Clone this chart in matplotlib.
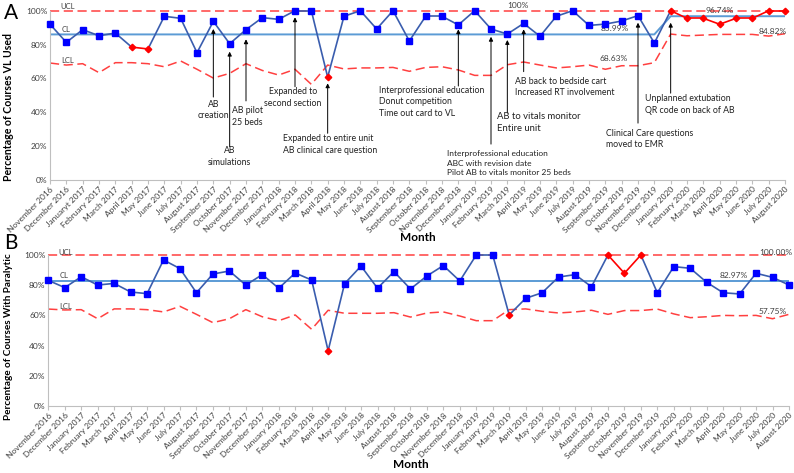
import numpy as np
import matplotlib
matplotlib.use('Agg')
from matplotlib import pyplot as plt

plt.rcParams['font.family'] = ['Lato', 'DejaVu Sans']

# 月份（A 图中 "Januaryt 2017" 为原图拼写）
months_b = ['November 2016', 'December 2016', 'January 2017', 'February 2017', 'March 2017',
            'April 2017', 'May 2017', 'June 2017', 'July 2017', 'August 2017', 'September 2017',
            'October 2017', 'November 2017', 'December 2017', 'January 2018', 'February 2018',
            'March 2018', 'April 2018', 'May 2018', 'June 2018', 'July 2018', 'August 2018',
            'September 2018', 'October 2018', 'November 2018', 'December 2018', 'January 2019',
            'February 2019', 'March 2019', 'April 2019', 'May 2019', 'June 2019', 'July 2019',
            'August 2019', 'September 2019', 'October 2019', 'November 2019', 'December 2019',
            'January 2020', 'February 2020', 'March 2020', 'April 2020', 'May 2020', 'June 2020',
            'July 2020', 'August 2020']
months_a = list(months_b)
months_a[2] = 'Januaryt 2017'

# A: VL 使用率
vl_used = [92.0, 81.3, 88.8, 85.2, 86.8, 78.5, 77.4, 96.7, 95.5, 75.2, 93.7, 80.5, 88.8, 95.9,
           94.9, 100, 100, 60.8, 96.7, 100, 89.2, 100, 82.1, 96.7, 96.7, 91.6, 100, 89.2, 86.2,
           92.5, 84.9, 96.7, 100, 91.3, 92.1, 93.9, 97.1, 80.9, 100, 95.5, 95.5, 92.0, 95.5,
           95.5, 100, 100]
vl_cl = [85.99] * 38 + [96.74] * 8
vl_ucl = [100] * 46
vl_lcl = [69.1, 67.9, 68.7, 63.4, 69.3, 69.3, 68.7, 66.9, 70.3, 65.4, 60.2, 63.0, 68.7, 64.7,
          62.0, 65.4, 56.5, 67.9, 65.6, 66.2, 66.2, 66.5, 64.2, 66.5, 66.9, 65.0, 61.8, 61.8,
          68.1, 69.7, 67.9, 66.2, 66.9, 67.9, 65.4, 67.5, 67.5, 69.3, 86.2, 85.2, 85.6, 86.0,
          86.0, 86.0, 85.0, 86.4]
vl_red = [5, 6, 17, 38, 39, 40, 41, 42, 43, 44, 45]

# B: 使用肌松药比例
par_used = [83.2, 78.4, 85.6, 80.1, 81.2, 75.5, 74.4, 96.7, 91.0, 75.0, 87.4, 89.4, 80.1, 87.0,
            78.0, 88.1, 83.4, 36.6, 81.0, 92.7, 78.0, 89.0, 77.5, 86.1, 93.0, 82.8, 100, 100,
            60.3, 71.3, 75.0, 85.4, 87.0, 79.0, 100, 87.9, 100, 75.0, 92.3, 91.2, 81.9, 75.0,
            74.2, 87.9, 85.2, 80.1]
par_cl = [82.97] * 46
par_ucl = [100] * 46
par_lcl = [64.2, 63.6, 63.8, 57.8, 64.3, 64.3, 63.8, 62.3, 66.0, 60.7, 55.2, 57.8, 63.8, 59.1,
           56.5, 60.3, 50.8, 63.4, 61.4, 61.4, 61.4, 61.8, 58.9, 61.6, 62.3, 59.6, 56.5, 56.5,
           63.8, 64.3, 62.7, 61.6, 62.3, 63.4, 60.7, 63.2, 63.2, 64.2, 61.0, 58.5, 59.1, 60.0,
           59.8, 60.0, 57.8, 60.7]
par_red = [17, 28, 34, 35, 36]

# 干预措施标注: (月份索引, 箭头头部y, 箭头尾部y, 文字x, 文字y, 对齐, 文字, 字号)
notes_a = [
    (10, 0.892, 0.49, 10.0, 0.413, 'center', 'AB\ncreation', 6.3),
    (11, 0.758, 0.197, 11.0, 0.139, 'center', 'AB\nsimulations', 6.3),
    (12, 0.831, 0.467, 11.14, 0.375, 'left', 'AB pilot\n25 beds', 6.3),
    (15, 0.961, 0.551, 14.88, 0.487, 'center', 'Expanded to\nsecond section', 6.3),
    (17, 0.571, 0.276, 14.25, 0.21, 'left', 'Expanded to entire unit\nAB clinical care question', 6.3),
    (25, 0.890, 0.555, 20.15, 0.461, 'left', 'Interprofessional education\nDonut competition\nTime out card to VL', 6.3),
    (27, 0.846, 0.212, 24.31, 0.10, 'left', 'Interprofessional education\nABC with revision date\nPilot AB to vitals monitor 25 beds', 6.0),
    (28, 0.827, 0.395, 27.37, 0.34, 'left', 'AB to vitals monitor\nEntire unit', 6.8),
    (29, 0.890, 0.640, 28.47, 0.549, 'left', 'AB back to bedside cart\nIncreased RT involvement', 6.3),
    (36, 0.929, 0.336, 34.05, 0.242, 'left', 'Clinical Care questions\nmoved to EMR', 6.3),
    (38, 0.929, 0.513, 36.44, 0.446, 'left', 'Unplanned extubation\nQR code on back of AB', 6.3),
]

BLUE_LINE = '#3A5DAE'
BLUE_MARK = '#0000FF'
CL_COLOR = '#5B9BD5'
RED = '#FF0000'
LIM_RED = '#FF4040'
GRAY = '#BFBFBF'
TXT = '#404040'


def draw_panel(ax, values, cl, ucl, lcl, red_idx, labels):
    x = np.arange(len(values))
    v = np.array(values) / 100.0
    ax.plot(x, np.array(ucl) / 100.0, color=LIM_RED, ls=(0, (6, 3)), lw=1.1, zorder=2, clip_on=False)
    ax.plot(x, np.array(lcl) / 100.0, color=LIM_RED, ls=(0, (6, 3)), lw=1.1, zorder=2)
    ax.plot(x, np.array(cl) / 100.0, color=CL_COLOR, lw=1.4, zorder=2)
    red = set(red_idx)
    # 折线：两端都失控的段画红色
    for i in range(len(v) - 1):
        c = RED if (i in red and i + 1 in red) else BLUE_LINE
        ax.plot(x[i:i + 2], v[i:i + 2], color=c, lw=1.2, zorder=3, clip_on=False)
    blue_i = [i for i in x if i not in red]
    red_i = sorted(red)
    ax.plot(x[blue_i], v[blue_i], 's', color=BLUE_MARK, ms=5, zorder=4, clip_on=False)
    ax.plot(x[red_i], v[red_i], 'D', color=RED, ms=3.3, zorder=4, clip_on=False)

    ax.set_xlim(0, len(values) - 1)
    ax.set_ylim(0, 1.0)
    ax.set_xticks(x)
    ax.set_xticklabels(labels, rotation=45, ha='right', rotation_mode='anchor',
                       fontsize=6, color=TXT)
    ax.set_yticks(np.arange(0, 1.01, 0.2))
    ax.set_yticklabels([f'{int(t)}%' for t in np.arange(0, 101, 20)], fontsize=6, color=TXT)
    for s in ['top', 'right']:
        ax.spines[s].set_visible(False)
    for s in ['left', 'bottom']:
        ax.spines[s].set_color(GRAY)
    ax.tick_params(axis='both', colors=GRAY, length=3, labelcolor=TXT, pad=1)
    ax.tick_params(axis='y', length=0, pad=2)
    ax.patch.set_alpha(0)


fig = plt.figure(figsize=(7.94, 4.73), dpi=100)

# ---------- A ----------
ax_a = fig.add_axes([50 / 794, 1 - 180 / 473, 735 / 794, 169.3 / 473])
draw_panel(ax_a, vl_used, vl_cl, vl_ucl, vl_lcl, vl_red, months_a)
ax_a.set_ylabel('Percentage of Courses VL Used', fontsize=7.6, fontweight='bold')
ax_a.yaxis.set_label_coords(-0.049, 0.43)
ax_a.set_xlabel('Month', fontsize=8.5, fontweight='bold')
ax_a.xaxis.set_label_coords(0.50, -0.305)

for idx, yh, yt, tx, ty, ha, txt, fs in notes_a:
    ax_a.annotate('', xy=(idx, yh), xytext=(idx, yt),
                  arrowprops=dict(arrowstyle='-|>', color='black', lw=0.7, mutation_scale=6,
                                  shrinkA=0, shrinkB=0))
    ax_a.text(tx, ty, txt, ha=ha, va='center', multialignment=ha, fontsize=fs,
              color='#222222', linespacing=1.35)

ax_a.text(1.1, 1.026, 'UCL', fontsize=5.5, color=TXT, ha='center', va='center')
ax_a.text(0.98, 0.89, 'CL', fontsize=5.5, color=TXT, ha='center', va='center')
ax_a.text(1.1, 0.703, 'LCL', fontsize=5.5, color=TXT, ha='center', va='center')
ax_a.text(28.66, 1.03, '100%', fontsize=6, color=TXT, ha='center', va='center')
ax_a.text(34.6, 0.892, '85.99%', fontsize=6, color=TXT, ha='center', va='center')
ax_a.text(34.5, 0.715, '68.63%', fontsize=6, color=TXT, ha='center', va='center')
ax_a.text(41.0, 1.004, '96.74%', fontsize=6, color=TXT, ha='center', va='center')
ax_a.text(44.27, 0.88, '84.82%', fontsize=6, color=TXT, ha='center', va='center')

fig.text(4 / 794, 1 - 13 / 473, 'A', fontsize=15, va='center', ha='left')

# ---------- B ----------
ax_b = fig.add_axes([48.3 / 794, 1 - 406 / 473, 740.7 / 794, 151 / 473])
draw_panel(ax_b, par_used, par_cl, par_ucl, par_lcl, par_red, months_b)
ax_b.set_ylabel('Percentage of Courses With Paralytic', fontsize=7.2, fontweight='bold')
ax_b.yaxis.set_label_coords(-0.048, 0.46)
ax_b.set_xlabel('Month', fontsize=8.5, fontweight='bold')
ax_b.xaxis.set_label_coords(0.49, -0.35)

ax_b.text(1.08, 1.015, 'UCL', fontsize=5.5, color=TXT, ha='center', va='center')
ax_b.text(0.95, 0.861, 'CL', fontsize=5.5, color=TXT, ha='center', va='center')
ax_b.text(1.05, 0.658, 'LCL', fontsize=5.5, color=TXT, ha='center', va='center')
ax_b.text(44.2, 1.015, '100.00%', fontsize=6, color=TXT, ha='center', va='center')
ax_b.text(41.66, 0.861, '82.97%', fontsize=6, color=TXT, ha='center', va='center')
ax_b.text(44.03, 0.625, '57.75%', fontsize=6, color=TXT, ha='center', va='center')

fig.text(4 / 794, 1 - 243 / 473, 'B', fontsize=15, va='center', ha='left')

fig.savefig('out.png', dpi=100)
plt.close(fig)
